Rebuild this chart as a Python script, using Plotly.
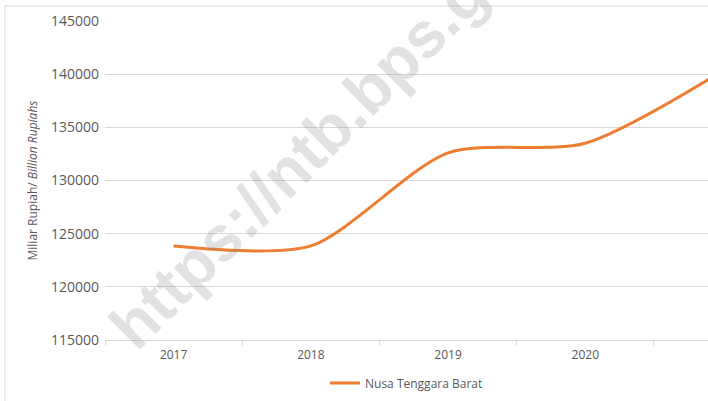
import plotly.graph_objects as go

# data
years = ["2017", "2018", "2019", "2020", "2021"]
year_pos = [0, 1, 2, 3, 4]
values = [123840, 123850, 132600, 133500, 140300]
series_name = "Nusa Tenggara Barat"
y_ticks = [115000, 120000, 125000, 130000, 135000, 140000, 145000]

ORANGE = "#ED7D31"
GRID = "#D9D9D9"
TEXT = "#595959"
FONT = "Open Sans"

fig = go.Figure()
fig.add_trace(
    go.Scatter(
        x=year_pos, y=values, mode="lines", name=series_name,
        line=dict(color=ORANGE, width=3, shape="spline", smoothing=0.75),
    )
)

# watermark
fig.add_annotation(
    x=1.2, y=135700, xref="x", yref="y", text="<b>https://ntb.bps.go.id</b>",
    showarrow=False, textangle=-45,
    font=dict(family="Liberation Sans", size=64, color="rgba(140,140,140,0.25)"),
)

# outer chart border (cropped on the right / bottom)
fig.add_shape(
    type="rect", xref="paper", yref="paper", x0=-0.166, x1=1.2, y0=-0.4, y1=1.047,
    line=dict(color=GRID, width=1), layer="below",
)

fig.update_xaxes(
    range=[-0.5, 3.894], tickvals=year_pos[:4], ticktext=years[:4],
    showgrid=False, zeroline=False, showline=True, linecolor=GRID, linewidth=1,
    ticks="", ticklabelstandoff=4, automargin=False,
    tickfont=dict(family=FONT, size=12, color=TEXT),
    minor=dict(tickvals=[-0.5, 0.5, 1.5, 2.5, 3.5], ticks="outside", ticklen=5,
               tickcolor=GRID, showgrid=False),
)
fig.update_yaxes(
    range=[115000, 145000], tickvals=y_ticks, tickformat="d",
    showgrid=True, gridcolor=GRID, gridwidth=1, zeroline=False, showline=False,
    ticklabelstandoff=5, automargin=False,
    tickfont=dict(family=FONT, size=14, color=TEXT),
    title=dict(text="Miliar Rupiah/ <i>Billion Rupiahs</i>", standoff=10,
               font=dict(family=FONT, size=12, color=TEXT)),
)

fig.update_layout(
    width=708, height=401,
    margin=dict(l=105, r=0, t=21, b=61),
    plot_bgcolor="white", paper_bgcolor="white",
    showlegend=True,
    legend=dict(orientation="h", x=0.5, xanchor="center", y=-0.135, yanchor="middle",
                font=dict(family=FONT, size=12, color=TEXT)),
)

fig.write_html("out.html", config={"displayModeBar": False},
               post_script="document.body.style.margin='0';")
